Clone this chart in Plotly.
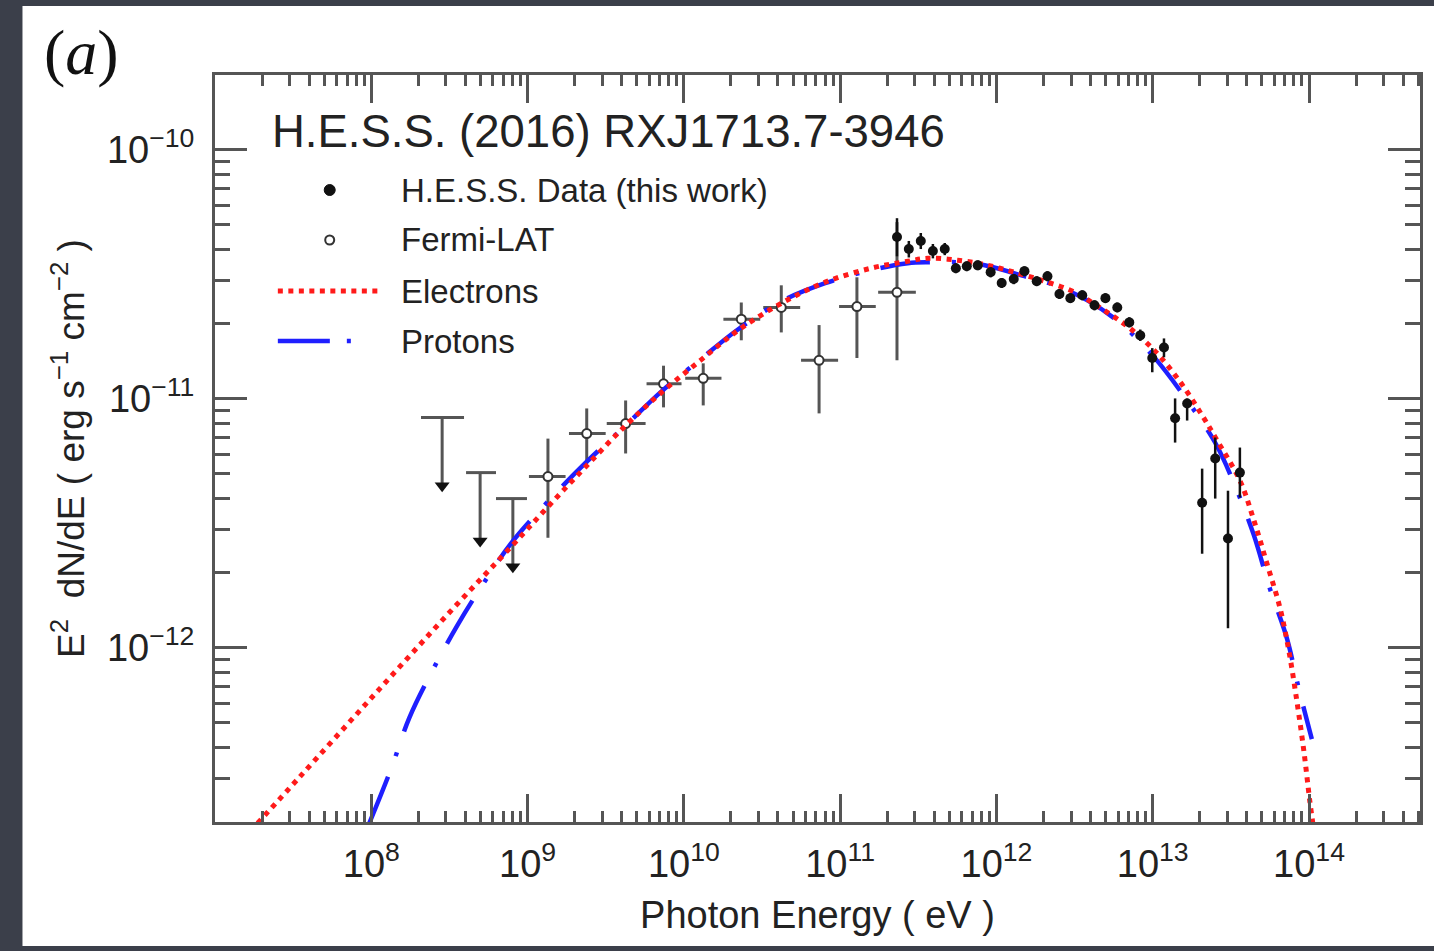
import plotly.graph_objects as go

# ---------------- data ----------------
# H.E.S.S. data points: energy (eV), E^2 dN/dE (erg s^-1 cm^-2) and error-bar ends
hess_E = [2.31e11, 2.75e11, 3.28e11, 3.92e11, 4.67e11, 5.50e11, 6.46e11, 7.59e11, 9.18e11, 1.08e12,
          1.29e12, 1.51e12, 1.81e12, 2.12e12, 2.53e12, 2.97e12, 3.54e12, 4.24e12, 4.98e12, 5.93e12,
          7.08e12, 8.32e12, 9.93e12, 1.18e13, 1.39e13, 1.66e13, 2.07e13, 2.51e13, 3.03e13, 3.61e13]
hess_F = [4.47e-11, 4.00e-11, 4.31e-11, 3.93e-11, 4.00e-11, 3.35e-11, 3.41e-11, 3.44e-11, 3.23e-11, 2.92e-11,
          3.03e-11, 3.26e-11, 2.97e-11, 3.11e-11, 2.64e-11, 2.54e-11, 2.61e-11, 2.38e-11, 2.54e-11, 2.33e-11,
          2.03e-11, 1.80e-11, 1.46e-11, 1.61e-11, 8.36e-12, 9.59e-12, 3.83e-12, 5.77e-12, 2.75e-12, 5.06e-12]
hess_F_hi = [5.32e-11, 4.31e-11, 4.64e-11, 4.19e-11, 4.23e-11, 3.51e-11, 3.57e-11, 3.60e-11, 3.38e-11, 3.06e-11,
             3.17e-11, 3.41e-11, 3.11e-11, 3.26e-11, 2.76e-11, 2.66e-11, 2.73e-11, 2.49e-11, 2.66e-11, 2.44e-11,
             2.13e-11, 1.90e-11, 1.60e-11, 1.75e-11, 1.005e-11, 1.005e-11, 5.25e-12, 7.00e-12, 4.28e-12, 6.38e-12]
hess_F_lo = [3.74e-11, 3.70e-11, 4.00e-11, 3.67e-11, 3.78e-11, 3.20e-11, 3.26e-11, 3.29e-11, 3.08e-11, 2.79e-11,
             2.89e-11, 3.11e-11, 2.84e-11, 2.97e-11, 2.52e-11, 2.43e-11, 2.49e-11, 2.27e-11, 2.43e-11, 2.23e-11,
             1.94e-11, 1.71e-11, 1.28e-11, 1.47e-11, 6.68e-12, 8.19e-12, 2.39e-12, 3.98e-12, 1.20e-12, 4.02e-12]

# Fermi-LAT points
fermi_E = [1.35e9, 2.39e9, 4.24e9, 7.41e9, 1.33e10, 2.33e10, 4.20e10, 7.33e10, 1.28e11, 2.31e11]
fermi_E_lo = [1.02e9, 1.84e9, 3.21e9, 5.77e9, 1.02e10, 1.79e10, 3.22e10, 5.62e10, 9.84e10, 1.75e11]
fermi_E_hi = [1.75e9, 3.16e9, 5.69e9, 9.66e9, 1.74e10, 3.08e10, 5.55e10, 9.70e10, 1.69e11, 3.05e11]
fermi_F = [4.88e-12, 7.26e-12, 7.96e-12, 1.15e-11, 1.21e-11, 2.09e-11, 2.33e-11, 1.43e-11, 2.35e-11, 2.68e-11]
fermi_F_hi = [6.93e-12, 9.16e-12, 9.86e-12, 1.36e-11, 1.39e-11, 2.44e-11, 2.86e-11, 1.98e-11, 3.08e-11, 5.13e-11]
fermi_F_lo = [2.77e-12, 5.50e-12, 6.04e-12, 9.25e-12, 9.42e-12, 1.72e-11, 1.85e-11, 8.75e-12, 1.46e-11, 1.43e-11]

# Fermi-LAT upper limits
ul_E = [2.84e8, 4.97e8, 8.05e8]
ul_E_lo = [2.08e8, 4.04e8, 6.28e8]
ul_E_hi = [3.92e8, 6.28e8, 9.91e8]
ul_F = [8.43e-12, 5.06e-12, 3.98e-12]

# Model curves
elec_E = [1.873e7, 3.472e7, 1.000e8, 3.148e8, 7.943e8, 1.368e9, 2.355e9, 4.236e9, 7.194e9, 1.276e10,
          2.228e10, 4.198e10, 8.017e10, 1.574e11, 2.710e11, 3.639e11, 5.649e11, 8.790e11, 1.365e12, 2.032e12,
          3.155e12, 4.560e12, 6.871e12, 1.023e13, 1.476e13, 2.070e13, 2.582e13, 3.614e13, 4.446e13, 5.383e13,
          6.516e13, 7.430e13, 8.356e13, 9.268e13, 1.012e14, 1.057e14]
elec_F = [1.977e-13, 3.027e-13, 6.295e-13, 1.384e-12, 2.570e-12, 3.724e-12, 5.346e-12, 7.816e-12, 1.062e-11, 1.429e-11,
          1.888e-11, 2.421e-11, 2.944e-11, 3.350e-11, 3.573e-11, 3.673e-11, 3.606e-11, 3.443e-11, 3.199e-11, 2.972e-11,
          2.685e-11, 2.333e-11, 1.959e-11, 1.567e-11, 1.186e-11, 8.590e-12, 6.808e-12, 4.699e-12, 3.243e-12, 2.178e-12,
          1.449e-12, 9.727e-13, 6.124e-13, 3.855e-13, 2.421e-13, 1.977e-13]

prot_E = [9.71e7, 1.343e8, 1.748e8, 2.415e8, 3.540e8, 5.108e8, 7.816e8, 1.368e9, 2.355e9, 4.236e9,
          7.194e9, 1.276e10, 2.228e10, 4.198e10, 8.017e10, 1.574e11, 2.710e11, 3.802e11, 5.649e11, 8.414e11,
          1.581e12, 2.350e12, 3.819e12, 6.209e12, 1.023e13, 1.660e13, 2.506e13, 3.459e13, 4.446e13, 5.623e13,
          7.211e13, 8.610e13, 1.042e14]
prot_F = [1.977e-13, 3.289e-13, 5.224e-13, 7.925e-13, 1.227e-12, 1.778e-12, 2.624e-12, 3.908e-12, 5.546e-12, 7.816e-12,
          1.072e-11, 1.442e-11, 1.905e-11, 2.466e-11, 2.917e-11, 3.289e-11, 3.508e-11, 3.540e-11, 3.540e-11, 3.443e-11,
          3.083e-11, 2.864e-11, 2.489e-11, 2.014e-11, 1.469e-11, 9.863e-12, 6.683e-12, 4.285e-12, 2.825e-12, 1.727e-12,
          1.096e-12, 6.839e-13, 4.305e-13]

x_major = [1e8, 1e9, 1e10, 1e11, 1e12, 1e13, 1e14]
x_labels = ["10<sup>8</sup>", "10<sup>9</sup>", "10<sup>10</sup>", "10<sup>11</sup>",
            "10<sup>12</sup>", "10<sup>13</sup>", "10<sup>14</sup>"]
y_major = [1e-12, 1e-11, 1e-10]
y_labels = ["10<sup>\u221212</sup>", "10<sup>\u221211</sup>", "10<sup>\u221210</sup>"]

legend_labels = ["H.E.S.S. Data (this work)", "Fermi-LAT", "Electrons", "Protons"]
panel_title = "H.E.S.S. (2016) RXJ1713.7-3946"

# ---------------- layout helpers ----------------
W, H = 1434, 951
ML, MR, MT, MB = 215, 11, 75, 129
PW, PH = W - ML - MR, H - MT - MB


def px(x):
    return (x - ML) / PW


def py(y):
    return (H - MB - y) / PH


FONT = "Liberation Sans, Arial, sans-serif"
TXT = "#222222"
ARROW_DROP = 1.88

x_minor = [k * 10.0 ** d for d in range(7, 15) for k in range(2, 10) if k * 10.0 ** d < 5.1e14]
y_minor = [k * 10.0 ** d for d in range(-13, -10) for k in range(2, 10) if 2e-13 <= k * 10.0 ** d <= 2e-10]

fig = go.Figure()

# Fermi-LAT upper limits
ux, uy = [], []
for e, lo, hi, f in zip(ul_E, ul_E_lo, ul_E_hi, ul_F):
    ux += [lo, hi, None, e, e, None]
    uy += [f, f, None, f, f / ARROW_DROP, None]
fig.add_trace(go.Scatter(x=ux, y=uy, mode="lines", line=dict(color="#555555", width=3),
                         showlegend=False, hoverinfo="skip"))
fig.add_trace(go.Scatter(x=ul_E, y=[f / ARROW_DROP for f in ul_F], mode="markers",
                         marker=dict(symbol="triangle-down", size=13, color="#111111"),
                         showlegend=False, hoverinfo="skip"))

# Fermi-LAT points
fig.add_trace(go.Scatter(
    x=fermi_E, y=fermi_F, mode="markers", name="Fermi-LAT", showlegend=False,
    marker=dict(symbol="circle", size=9, color="white", line=dict(color="#333333", width=2)),
    error_x=dict(type="data", symmetric=False,
                 array=[h - e for h, e in zip(fermi_E_hi, fermi_E)],
                 arrayminus=[e - l for e, l in zip(fermi_E, fermi_E_lo)],
                 color="#555555", thickness=3, width=0),
    error_y=dict(type="data", symmetric=False,
                 array=[h - f for h, f in zip(fermi_F_hi, fermi_F)],
                 arrayminus=[f - l for f, l in zip(fermi_F, fermi_F_lo)],
                 color="#555555", thickness=3, width=0),
))

# model curves
fig.add_trace(go.Scatter(x=prot_E, y=prot_F, mode="lines", name="Protons", showlegend=False,
                         line=dict(color="#1f1fff", width=4.5, dash="50px,22px,4px,22px", shape="spline"),
                         hoverinfo="skip"))
fig.add_trace(go.Scatter(x=elec_E, y=elec_F, mode="lines", name="Electrons", showlegend=False,
                         line=dict(color="#ff1a1a", width=5, dash="5px,5.5px", shape="spline"),
                         hoverinfo="skip"))

# H.E.S.S. points
fig.add_trace(go.Scatter(
    x=hess_E, y=hess_F, mode="markers", name="H.E.S.S. Data (this work)", showlegend=False,
    marker=dict(symbol="circle", size=10, color="#111111"),
    error_y=dict(type="data", symmetric=False,
                 array=[h - f for h, f in zip(hess_F_hi, hess_F)],
                 arrayminus=[f - l for f, l in zip(hess_F, hess_F_lo)],
                 color="#111111", thickness=2.5, width=0),
))

axis_common = dict(
    type="log", showgrid=False, zeroline=False, showline=True, linecolor="#555555", linewidth=3,
    mirror="allticks", ticks="inside", tickcolor="#555555", tickwidth=2.5,
    tickmode="array", tickfont=dict(family=FONT, size=38, color=TXT),
)

fig.update_xaxes(
    **axis_common, range=[7.0, 14.71], tickvals=x_major, ticktext=x_labels, ticklen=28,
    ticklabelstandoff=6,
    minor=dict(tickmode="array", tickvals=x_minor, ticks="inside", ticklen=11,
               tickcolor="#555555", tickwidth=2.5, showgrid=False),
    title=dict(text="Photon Energy ( eV )", font=dict(family=FONT, size=38, color=TXT), standoff=18),
)
fig.update_yaxes(
    **axis_common, range=[-12.699, -9.699], tickvals=y_major, ticktext=y_labels, ticklen=32,
    ticklabelstandoff=10,
    minor=dict(tickmode="array", tickvals=y_minor, ticks="inside", ticklen=15,
               tickcolor="#555555", tickwidth=2.5, showgrid=False),
    title=dict(text="E<sup>2</sup>  dN/dE ( erg s<sup>\u22121</sup> cm<sup>\u22122</sup> )",
               font=dict(family=FONT, size=37, color=TXT), standoff=12),
)

shapes = [
    # white panel on the dark slide background
    dict(type="rect", xref="paper", yref="paper", x0=px(22), x1=px(W + 5), y0=py(946), y1=py(6),
         fillcolor="white", line=dict(width=0), layer="below"),
]

# manual legend
rows = [190, 240, 291, 341]
shapes.append(dict(type="circle", xref="paper", yref="paper", xsizemode="pixel", ysizemode="pixel",
                   xanchor=px(330), yanchor=py(rows[0]), x0=-5.5, x1=5.5, y0=-5.5, y1=5.5,
                   fillcolor="#111111", line=dict(color="#111111", width=1)))
shapes.append(dict(type="circle", xref="paper", yref="paper", xsizemode="pixel", ysizemode="pixel",
                   xanchor=px(330), yanchor=py(rows[1]), x0=-4.5, x1=4.5, y0=-4.5, y1=4.5,
                   fillcolor="white", line=dict(color="#333333", width=2)))
shapes.append(dict(type="line", xref="paper", yref="paper", x0=px(278), x1=px(380), y0=py(rows[2]), y1=py(rows[2]),
                   line=dict(color="#ff1a1a", width=5, dash="5px,5.5px")))
shapes.append(dict(type="line", xref="paper", yref="paper", x0=px(278), x1=px(354), y0=py(rows[3]), y1=py(rows[3]),
                   line=dict(color="#1f1fff", width=4.5, dash="52px,17px,4px,40px")))

annotations = [
    dict(text="(<i>a</i>)", xref="paper", yref="paper", x=px(42), y=py(52), xanchor="left", yanchor="middle",
         showarrow=False, font=dict(family="Liberation Serif, Times New Roman, serif", size=64, color="#111111")),
    dict(text=panel_title, xref="paper", yref="paper", x=px(270), y=py(131), xanchor="left", yanchor="middle",
         showarrow=False, font=dict(family=FONT, size=45.5, color=TXT)),
]
for lab, r in zip(legend_labels, rows):
    annotations.append(dict(text=lab, xref="paper", yref="paper", x=px(399), y=py(r),
                            xanchor="left", yanchor="middle", showarrow=False,
                            font=dict(family=FONT, size=33, color=TXT)))

fig.update_layout(
    width=W, height=H, autosize=False,
    margin=dict(l=ML, r=MR, t=MT, b=MB, pad=0),
    paper_bgcolor="#3b3f4a", plot_bgcolor="white",
    showlegend=False, shapes=shapes, annotations=annotations,
    font=dict(family=FONT, color=TXT),
)

fig.write_html("out.html")
